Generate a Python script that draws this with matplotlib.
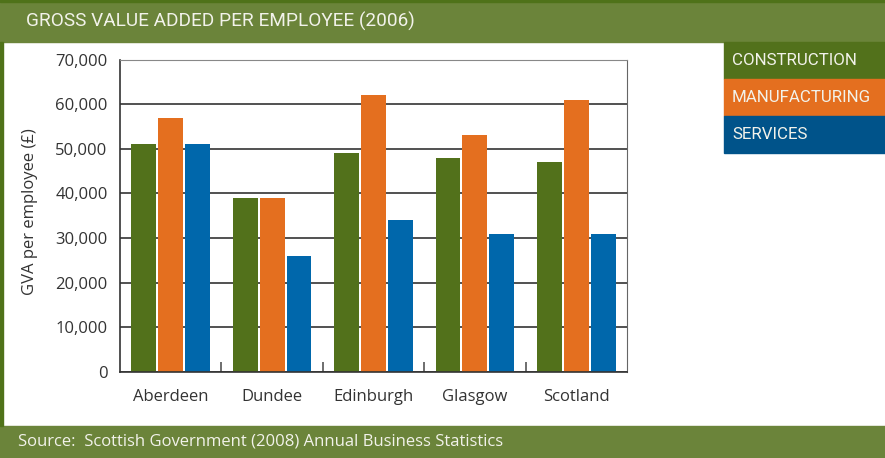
import matplotlib
matplotlib.use("Agg")
import numpy as np
import matplotlib.pyplot as plt
from matplotlib.patches import Rectangle
from matplotlib.ticker import FuncFormatter, FixedLocator

cities = ["Aberdeen", "Dundee", "Edinburgh", "Glasgow", "Scotland"]
construction = [51000, 39000, 49000, 48000, 47000]
manufacturing = [57000, 39000, 62000, 53000, 61000]
services = [51000, 26000, 34000, 31000, 31000]
series_names = ["CONSTRUCTION", "MANUFACTURING", "SERVICES"]

green = "#52711b"
orange = "#e46f1f"
blue = "#0067ab"
legend_blue = "#00538a"
header_green = "#6b843a"
edge_green = "#4f7219"
text_col = "#333333"

W, H = 885, 458
fig = plt.figure(figsize=(W / 100, H / 100), dpi=100)

def fx(px):
    return px / W

def fy(py):
    return 1 - py / H

# header, footer and left frame strip
fig.patches.append(Rectangle((0, fy(41.7)), 1, 41.7 / H, transform=fig.transFigure,
                             color=header_green, zorder=0))
fig.patches.append(Rectangle((0, fy(2)), 1, 2 / H, transform=fig.transFigure,
                             color=edge_green, zorder=0))
fig.patches.append(Rectangle((0, 0), 1, 32 / H, transform=fig.transFigure,
                             color=header_green, zorder=0))
fig.patches.append(Rectangle((0, 32 / H), 3.3 / W, (H - 32 - 41.7) / H,
                             transform=fig.transFigure, color=edge_green, zorder=0))

head_font = "Roboto"
fig.text(fx(26), fy(21), "GROSS VALUE ADDED PER EMPLOYEE (2006)", color="#f2f2ea",
         fontsize=13.7, family=head_font, va="center", ha="left")
fig.text(fx(18), fy(442), "Source:  Scottish Government (2008) Annual Business Statistics",
         color="#f2f2ea", fontsize=12, family="Open Sans", va="center", ha="left")

# legend boxes
box_cols = [green, orange, legend_blue]
box_tops = [42, 79, 115.7]
box_h = [37, 36.7, 37.3]
for name, col, top, hh in zip(series_names, box_cols, box_tops, box_h):
    fig.patches.append(Rectangle((fx(724), fy(top + hh)), 1 - fx(724), hh / H,
                                 transform=fig.transFigure, color=col, zorder=0))
    fig.text(fx(732), fy(top + hh / 2), name, color="#f2f2ea", fontsize=12.2,
             family=head_font, va="center", ha="left")

# chart
ax = fig.add_axes([fx(120), fy(372), fx(627) - fx(120), (372 - 59.5) / H])
x = np.arange(len(cities))
step = 0.266
bw = 0.245
for vals, col, off in zip([construction, manufacturing, services],
                          [green, orange, blue], [-step, 0, step]):
    ax.bar(x + off, vals, width=bw, color=col, zorder=2)

ax.set_xlim(-0.5, len(cities) - 0.5)
ax.set_ylim(0, 70000)
ax.set_yticks(np.arange(0, 70001, 10000))
ax.yaxis.set_major_formatter(FuncFormatter(lambda v, p: f"{int(v):,}"))
ax.set_xticks(x)
ax.set_xticklabels(cities)
ax.xaxis.set_minor_locator(FixedLocator(np.arange(0.5, len(cities) - 1, 1)))
ax.tick_params(axis="x", which="major", length=0, pad=12, labelsize=12,
               labelcolor=text_col)
ax.tick_params(axis="x", which="minor", direction="in", length=7, width=1.2,
               color="#555555")
ax.tick_params(axis="y", length=0, pad=9, labelsize=12, labelcolor=text_col)
for lab in ax.get_xticklabels() + ax.get_yticklabels():
    lab.set_family("Open Sans")

ax.grid(axis="y", color="#333333", linewidth=1.2, zorder=1)
ax.set_axisbelow(True)
ax.spines["left"].set_color("#333333")
ax.spines["bottom"].set_color("#333333")
ax.spines["left"].set_linewidth(1.2)
ax.spines["bottom"].set_linewidth(1.2)
ax.spines["top"].set_color("#888888")
ax.spines["right"].set_color("#666666")

fig.text(fx(30), fy(212), "GVA per employee (£)", rotation=90, color=text_col,
         fontsize=12, family="Open Sans", va="center", ha="center")

fig.savefig("out.png", dpi=100)
